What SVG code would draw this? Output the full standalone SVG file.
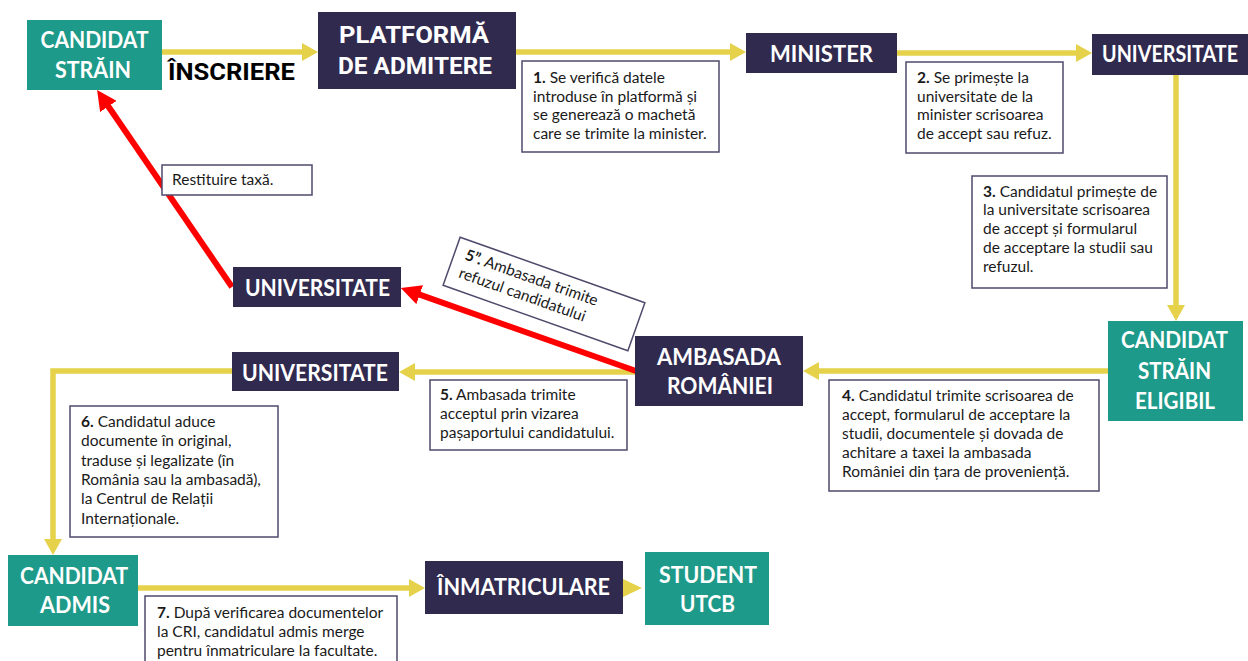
<svg xmlns="http://www.w3.org/2000/svg" width="1248" height="661" viewBox="0 0 1248 661">
<style>
.teal{fill:#1d9a89}
.navy{fill:#302a4f}
.lbl{font-family:Lato,"Open Sans",sans-serif;font-weight:700;font-size:22px;fill:#fff;text-anchor:middle}
.rob{font-family:Roboto,sans-serif;font-weight:700;font-size:24px;fill:#fff;text-anchor:middle}
.note{fill:#fff;stroke:#4f4a6b;stroke-width:1.5}
.nt{font-family:Lato,"Open Sans",sans-serif;font-size:15.5px;fill:#1a1a1a}
.b{font-weight:700}
.yl{fill:none;stroke:#e5d24a;stroke-width:5.5}
.rl{fill:none;stroke:#ff0000;stroke-width:6}
</style>
<defs>
<marker id="ya" markerUnits="userSpaceOnUse" markerWidth="16" markerHeight="18" refX="4" refY="9" orient="auto"><path d="M0,0 L16,9 L0,18 z" fill="#e5d24a"/></marker>
<marker id="ra" markerUnits="userSpaceOnUse" markerWidth="20" markerHeight="20" refX="6" refY="10" orient="auto"><path d="M0,0 L20,10 L0,20 z" fill="#ff0000"/></marker>
</defs>
<rect width="1248" height="661" fill="#fff"/>

<g id="connectors">
<path class="yl" d="M162,52 H306" marker-end="url(#ya)"/>
<path class="yl" d="M516,52 H734" marker-end="url(#ya)"/>
<path class="yl" d="M897,53 H1080" marker-end="url(#ya)"/>
<path class="yl" d="M1176,75 V309" marker-end="url(#ya)"/>
<path class="yl" d="M1108,371 H815" marker-end="url(#ya)"/>
<path class="yl" d="M635,372 H411" marker-end="url(#ya)"/>
<path class="yl" d="M232,371 H53 V543" marker-end="url(#ya)"/>
<path class="yl" d="M138,588 H413" marker-end="url(#ya)"/>
<path d="M623,579 L642,588 L623,597 z" fill="#e5d24a"/>
<path class="rl" d="M636,371 L414,292.7" marker-end="url(#ra)"/>
<path class="rl" d="M232,287 L105,101.5" marker-end="url(#ra)"/>
</g>

<text x="231.5" y="80" font-family="Roboto,sans-serif" font-weight="700" font-size="24" fill="#000" text-anchor="middle" textLength="127" lengthAdjust="spacingAndGlyphs">ÎNSCRIERE</text>

<g id="n-candidat-strain">
<rect class="teal" x="27" y="20" width="135" height="70"/>
<text class="lbl" x="94.5" y="48" textLength="108" lengthAdjust="spacingAndGlyphs">CANDIDAT</text>
<text class="lbl" x="93" y="78" textLength="76" lengthAdjust="spacingAndGlyphs">STRĂIN</text>
</g>
<g id="n-platforma">
<rect class="navy" x="318" y="12" width="198" height="77"/>
<text class="rob" x="414" y="43" textLength="150" lengthAdjust="spacingAndGlyphs">PLATFORMĂ</text>
<text class="rob" x="415" y="74" textLength="154" lengthAdjust="spacingAndGlyphs">DE ADMITERE</text>
</g>
<g id="n-minister">
<rect class="navy" x="746" y="33" width="151" height="40"/>
<text class="lbl" x="821.5" y="62" textLength="103" lengthAdjust="spacingAndGlyphs">MINISTER</text>
</g>
<g id="n-universitate-1">
<rect class="navy" x="1092" y="34" width="156" height="41"/>
<text class="lbl" x="1170" y="62" textLength="136" lengthAdjust="spacingAndGlyphs">UNIVERSITATE</text>
</g>
<g id="n-candidat-eligibil">
<rect class="teal" x="1108" y="321" width="135" height="100"/>
<text class="lbl" x="1174.5" y="348" textLength="107" lengthAdjust="spacingAndGlyphs">CANDIDAT</text>
<text class="lbl" x="1174.5" y="379" textLength="73" lengthAdjust="spacingAndGlyphs">STRĂIN</text>
<text class="lbl" x="1175" y="409" textLength="80" lengthAdjust="spacingAndGlyphs">ELIGIBIL</text>
</g>
<g id="n-ambasada">
<rect class="navy" x="635" y="336" width="168" height="70"/>
<text class="lbl" x="719" y="365" textLength="124" lengthAdjust="spacingAndGlyphs">AMBASADA</text>
<text class="lbl" x="720" y="394" textLength="106" lengthAdjust="spacingAndGlyphs">ROMÂNIEI</text>
</g>
<g id="n-universitate-2">
<rect class="navy" x="233" y="267" width="168" height="40"/>
<text class="lbl" x="317.5" y="296" textLength="145" lengthAdjust="spacingAndGlyphs">UNIVERSITATE</text>
</g>
<g id="n-universitate-3">
<rect class="navy" x="232" y="352" width="167" height="39"/>
<text class="lbl" x="315" y="381" textLength="146" lengthAdjust="spacingAndGlyphs">UNIVERSITATE</text>
</g>
<g id="n-candidat-admis">
<rect class="teal" x="8" y="555" width="130" height="71"/>
<text class="lbl" x="74" y="584" textLength="108" lengthAdjust="spacingAndGlyphs">CANDIDAT</text>
<text class="lbl" x="75" y="613" textLength="70" lengthAdjust="spacingAndGlyphs">ADMIS</text>
</g>
<g id="n-inmatriculare">
<rect class="navy" x="425" y="561" width="198" height="53"/>
<text class="lbl" x="523.5" y="595" textLength="173" lengthAdjust="spacingAndGlyphs">ÎNMATRICULARE</text>
</g>
<g id="n-student">
<rect class="teal" x="645" y="552" width="124" height="73"/>
<text class="lbl" x="708" y="583" textLength="98" lengthAdjust="spacingAndGlyphs">STUDENT</text>
<text class="lbl" x="707.5" y="612" textLength="55" lengthAdjust="spacingAndGlyphs">UTCB</text>
</g>

<g id="note-1">
<rect class="note" x="522" y="61" width="197" height="91"/>
<text class="nt" x="533" y="83"><tspan class="b">1.</tspan> Se verifică datele</text>
<text class="nt" x="533" y="102">introduse în platformă și</text>
<text class="nt" x="533" y="120">se generează o machetă</text>
<text class="nt" x="533" y="139">care se trimite la minister.</text>
</g>
<g id="note-2">
<rect class="note" x="906" y="62" width="157" height="91"/>
<text class="nt" x="917" y="83"><tspan class="b">2.</tspan> Se primește la</text>
<text class="nt" x="917" y="102">universitate de la</text>
<text class="nt" x="917" y="120">minister scrisoarea</text>
<text class="nt" x="917" y="139">de accept sau refuz.</text>
</g>
<g id="note-3">
<rect class="note" x="972" y="176" width="195" height="112"/>
<text class="nt" x="983" y="197"><tspan class="b">3.</tspan> Candidatul primește de</text>
<text class="nt" x="983" y="215">la universitate scrisoarea</text>
<text class="nt" x="983" y="234">de accept și formularul</text>
<text class="nt" x="983" y="253">de acceptare la studii sau</text>
<text class="nt" x="983" y="272">refuzul.</text>
</g>
<g id="note-4">
<rect class="note" x="829" y="380" width="270" height="111"/>
<text class="nt" x="842" y="401"><tspan class="b">4.</tspan> Candidatul trimite scrisoarea de</text>
<text class="nt" x="842" y="420">accept, formularul de acceptare la</text>
<text class="nt" x="842" y="439">studii, documentele și dovada de</text>
<text class="nt" x="842" y="458">achitare a taxei la ambasada</text>
<text class="nt" x="842" y="477">României din țara de proveniență.</text>
</g>
<g id="note-5">
<rect class="note" x="430" y="380" width="197" height="70"/>
<text class="nt" x="440" y="400"><tspan class="b">5.</tspan> Ambasada trimite</text>
<text class="nt" x="440" y="419">acceptul prin vizarea</text>
<text class="nt" x="440" y="438">pașaportului candidatului.</text>
</g>
<g id="note-5b">
<g transform="translate(544,294) rotate(19.5)">
<rect class="note" x="-98" y="-25.5" width="196" height="51"/>
<text class="nt" x="-87" y="-6"><tspan class="b">5”.</tspan> Ambasada trimite</text>
<text class="nt" x="-87" y="13">refuzul candidatului</text>
</g>
</g>
<g id="note-restituire">
<rect class="note" x="162" y="165" width="150" height="30"/>
<text class="nt" x="172" y="185">Restituire taxă.</text>
</g>
<g id="note-6">
<rect class="note" x="70" y="406" width="208" height="131"/>
<text class="nt" x="81" y="427"><tspan class="b">6.</tspan> Candidatul aduce</text>
<text class="nt" x="81" y="446">documente în original,</text>
<text class="nt" x="81" y="466">traduse și legalizate (în</text>
<text class="nt" x="81" y="485">România sau la ambasadă),</text>
<text class="nt" x="81" y="504">la Centrul de Relații</text>
<text class="nt" x="81" y="524">Internaționale.</text>
</g>
<g id="note-7">
<rect class="note" x="145" y="596" width="252" height="80"/>
<text class="nt" x="157" y="618"><tspan class="b">7.</tspan> După verificarea documentelor</text>
<text class="nt" x="157" y="637">la CRI, candidatul admis merge</text>
<text class="nt" x="157" y="656">pentru înmatriculare la facultate.</text>
</g>
</svg>
